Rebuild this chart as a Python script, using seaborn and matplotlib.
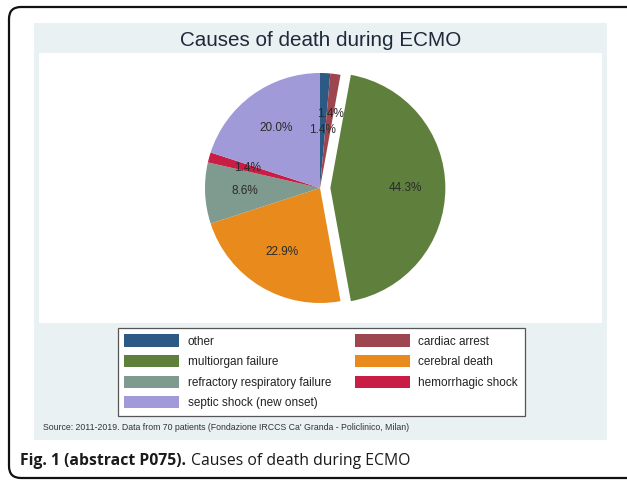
import matplotlib
matplotlib.use("Agg")
import matplotlib.pyplot as plt
from matplotlib.patches import Rectangle, FancyBboxPatch
import seaborn as sns
import numpy as np

# ---- data ----
causes = ["other", "cardiac arrest", "multiorgan failure", "cerebral death",
          "refractory respiratory failure", "hemorrhagic shock", "septic shock (new onset)"]
deaths = [1, 1, 31, 16, 6, 1, 14]          # 70 patients
colors = ["#2c5a85", "#9e4650", "#5f7f3d", "#e88b1c", "#7f9a8f", "#c81e45", "#a09ad8"]
explode = [0, 0, 0.09, 0, 0, 0, 0]
title = "Causes of death during ECMO"
source = "Source: 2011-2019. Data from 70 patients (Fondazione IRCCS Ca' Granda - Policlinico, Milan)"
cap_bold = "Fig. 1 (abstract P075)."
cap_text = "Causes of death during ECMO"

sns.set_theme(style="white")
plt.rcParams["font.family"] = ["Liberation Sans", "DejaVu Sans"]

W, H = 627, 480
fig = plt.figure(figsize=(W / 100, H / 100), dpi=100)
fig.patch.set_facecolor("white")

# background axes in pixel coordinates
bg = fig.add_axes([0, 0, 1, 1])
bg.set_xlim(0, W)
bg.set_ylim(H, 0)
bg.axis("off")
bg.add_patch(FancyBboxPatch((9, 7), 640, 471, boxstyle="round,pad=0,rounding_size=12",
                            facecolor="white", edgecolor="#111111", linewidth=1.6))
bg.add_patch(Rectangle((34, 23), 573, 417, facecolor="#eaf1f3", edgecolor="none"))
bg.add_patch(Rectangle((39, 53), 563, 270, facecolor="white", edgecolor="none"))
bg.text(321, 40, title, ha="center", va="center", fontsize=14.9, color="#1e2a3a")
bg.text(43, 427, source, ha="left", va="center", fontsize=6.35, color="#333333")
t1 = bg.text(20, 461, cap_bold, ha="left", va="center", fontsize=11.35,
             fontweight="bold", family=["Open Sans", "DejaVu Sans"], color="#1a1a1a")
fig.canvas.draw()
r = fig.canvas.get_renderer()
bb = t1.get_window_extent(renderer=r)
bg.text(bb.x1 + 5, 461, cap_text, ha="left", va="center", fontsize=11.35,
        family=["Open Sans", "DejaVu Sans"], color="#1a1a1a")

# pie axes: centre (320,188) px, radius 115 px
cx, cy, R = 320, 188, 115
half = 1.25 * R
ax = fig.add_axes([(cx - half) / W, 1 - (cy + half) / H, 2 * half / W, 2 * half / H])
ax.set_xlim(-1.25, 1.25)
ax.set_ylim(-1.25, 1.25)
ax.axis("off")
pal = sns.color_palette(colors)
wedges, texts, autotexts = ax.pie(deaths, colors=pal, explode=explode, startangle=90,
                                  counterclock=False, autopct="%1.1f%%", pctdistance=0.65,
                                  textprops=dict(fontsize=8.5, color="#2a2a2a"),
                                  wedgeprops=dict(linewidth=0))
# 'other' label sits closer to the centre in the original
x0, y0 = autotexts[0].get_position()
autotexts[0].set_position((x0 * 0.78, y0 * 0.78))

# legend
handles = [Rectangle((0, 0), 1, 1, facecolor=c, edgecolor="none") for c in pal]
order = [0, 2, 4, 6, 1, 3, 5]
leg = fig.legend([handles[i] for i in order], [causes[i] for i in order], ncol=2,
                 loc="upper left", bbox_to_anchor=(118 / W, 1 - 328 / H), borderaxespad=0,
                 fontsize=8.5, handlelength=4.6, handleheight=1.2, handletextpad=0.75,
                 labelspacing=0.64, columnspacing=2.05, borderpad=0.55, fancybox=False,
                 frameon=True, framealpha=1)
leg.get_frame().set_edgecolor("#555555")
leg.get_frame().set_linewidth(0.9)
leg.get_frame().set_facecolor("white")
for t in leg.get_texts():
    t.set_color("#222222")

fig.savefig("out.png", dpi=100)
